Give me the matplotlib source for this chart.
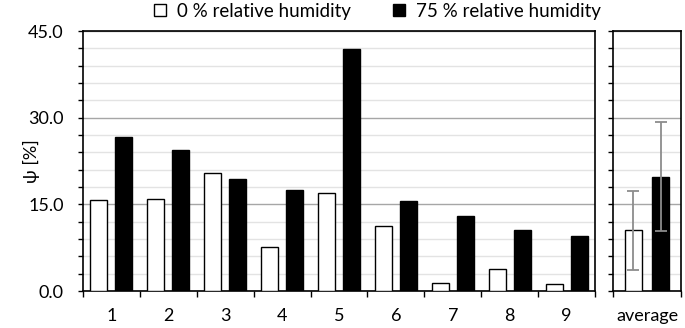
import numpy as np
import matplotlib.pyplot as plt
from matplotlib.ticker import MultipleLocator, FixedLocator, NullFormatter

plt.rcParams['font.family'] = ['Lato', 'DejaVu Sans']

# data
samples = ["1", "2", "3", "4", "5", "6", "7", "8", "9"]
rh0 = [15.7, 15.9, 20.5, 7.6, 17.0, 11.2, 1.4, 3.8, 1.2]
rh75 = [26.6, 24.4, 19.4, 17.5, 41.9, 15.6, 12.9, 10.6, 9.5]
avg_rh0, err_rh0 = 10.5, 6.8
avg_rh75, err_rh75 = 19.8, 9.4
legend_labels = ["0 % relative humidity", "75 % relative humidity"]

fs = 13
fig = plt.figure(figsize=(6.85, 3.28), dpi=100)
ax = fig.add_axes([83 / 685, 37 / 328, 512 / 685, 260 / 328])
ax2 = fig.add_axes([613 / 685, 37 / 328, 68 / 685, 260 / 328])

x = np.arange(len(samples))
w = 0.3
b1 = ax.bar(x - 0.22, rh0, w, color="white", edgecolor="black", lw=1, zorder=3,
            label=legend_labels[0])
b2 = ax.bar(x + 0.22, rh75, w, color="black", edgecolor="black", lw=1, zorder=3,
            label=legend_labels[1])

ax2.bar([-0.2], [avg_rh0], 0.25, color="white", edgecolor="black", lw=1, zorder=3)
ax2.bar([0.2], [avg_rh75], 0.25, color="black", edgecolor="black", lw=1, zorder=3)
ax2.errorbar([-0.2, 0.2], [avg_rh0, avg_rh75], yerr=[err_rh0, err_rh75], fmt="none",
             ecolor="#8c8c8c", elinewidth=1.3, capsize=4, capthick=1.3, zorder=4)

for a in (ax, ax2):
    a.set_ylim(0, 45)
    a.yaxis.set_major_locator(MultipleLocator(15))
    a.yaxis.set_minor_locator(MultipleLocator(3))
    a.grid(axis="y", which="minor", color="#e3e3e3", lw=1, zorder=0)
    a.grid(axis="y", which="major", color="#a6a6a6", lw=1, zorder=1)
    a.tick_params(axis="y", which="both", direction="out", length=3.8, width=1,
                  color="black", pad=10, labelsize=fs)
    a.tick_params(axis="x", which="major", length=0, pad=12, labelsize=fs)
    a.tick_params(axis="x", which="minor", direction="out", length=4, width=1)
    for s in a.spines.values():
        s.set_linewidth(1.2)
        s.set_color("black")
    a.set_axisbelow(True)

ax.set_xlim(-0.5, len(samples) - 0.5)
ax.set_xticks(x)
ax.set_xticklabels(samples)
ax.xaxis.set_minor_locator(FixedLocator(np.arange(-0.5, len(samples), 1.0)))
ax.yaxis.set_major_formatter(lambda v, p: f"{v:.1f}")
fig.text(31 / 685, (37 + 130) / 328, "ψ [%]", rotation=90, ha="center", va="center",
         fontsize=fs)

ax2.set_xlim(-0.5, 0.5)
ax2.set_xticks([0])
ax2.set_xticklabels(["average"])
ax2.xaxis.set_minor_locator(FixedLocator([-0.5, 0.5]))
ax2.yaxis.set_major_formatter(NullFormatter())

fig.legend(handles=[b1, b2], loc="center", bbox_to_anchor=(0.551, 1 - 11 / 328), ncol=2,
           frameon=False, fontsize=13.5, handlelength=0.65, handleheight=0.65,
           columnspacing=2.2, handletextpad=0.6, borderpad=0)

fig.savefig("out.png", dpi=100)
